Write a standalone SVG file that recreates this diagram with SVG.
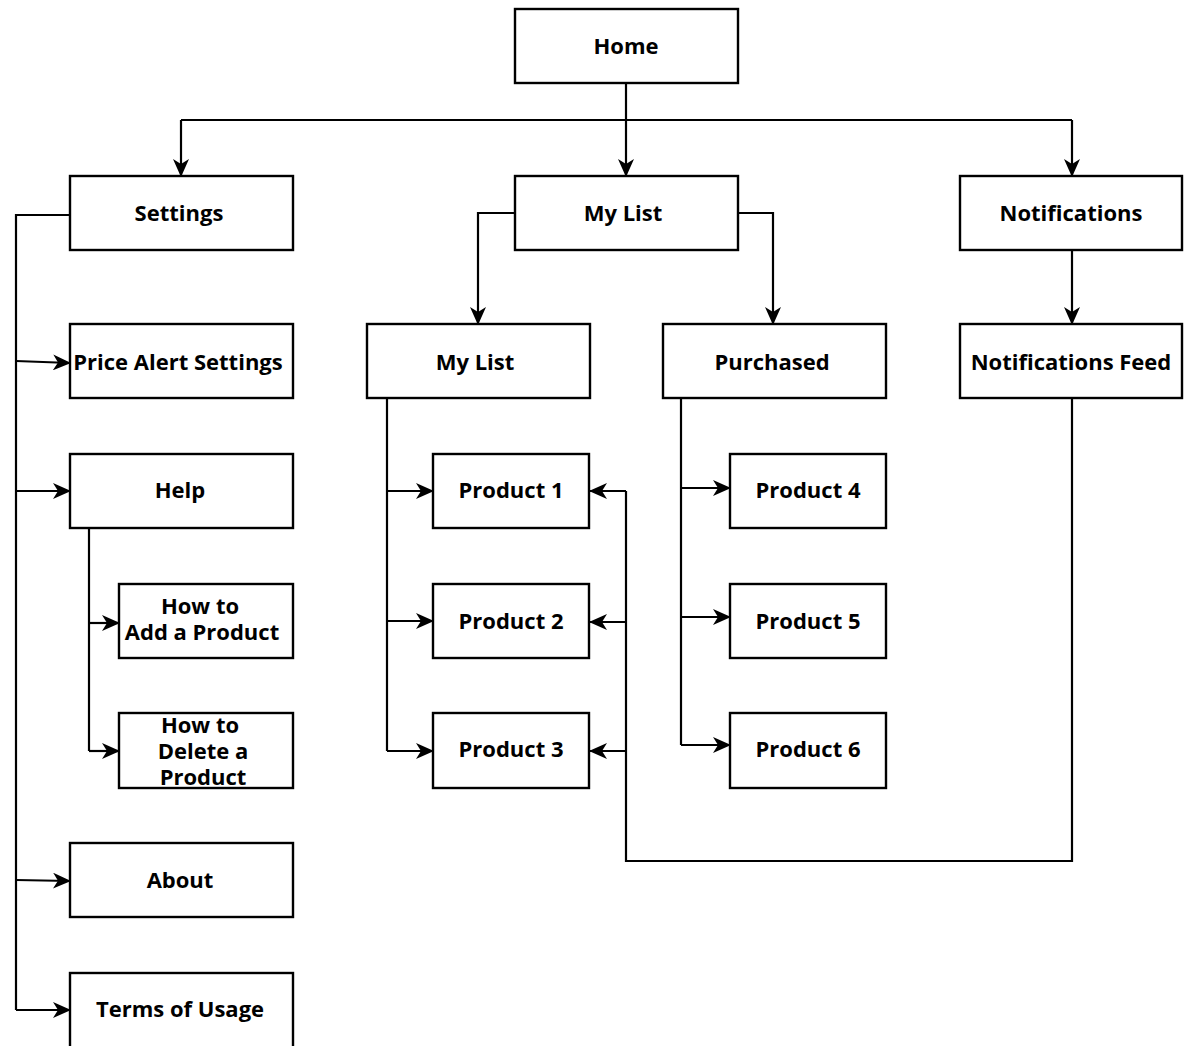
<svg xmlns="http://www.w3.org/2000/svg" width="1188" height="1046" viewBox="0 0 1188 1046">
  <style>
    .box { fill: #ffffff; stroke: #000000; stroke-width: 2.4; }
    .lbl { font-family: "Open Sans", "DejaVu Sans", sans-serif; font-weight: bold; font-size: 22px; fill: #000000; text-anchor: middle; }
    .wire { fill: none; stroke: #000000; stroke-width: 2.2; }
    .arr { marker-end: url(#head); }
  </style>
  <defs>
    <marker id="head" markerUnits="userSpaceOnUse" markerWidth="18" markerHeight="16" viewBox="0 0 18 16" refX="17" refY="8" orient="auto">
      <path d="M0,0 L18,8 L0,16 L5,8 Z" fill="#000000"/>
    </marker>
  </defs>
  <rect width="1188" height="1046" fill="#ffffff"/>

  <!-- connectors -->
  <g id="connectors">
    <path class="wire" d="M626,83 V120"/>
    <path class="wire" d="M181,120 H1072"/>
    <path class="wire arr" d="M181,120 V176"/>
    <path class="wire arr" d="M626,120 V176"/>
    <path class="wire arr" d="M1072,120 V176"/>

    <!-- settings branch -->
    <path class="wire" d="M70,215 H16 V1010"/>
    <path class="wire arr" d="M16,361 L70,363"/>
    <path class="wire arr" d="M16,491 H70"/>
    <path class="wire arr" d="M16,880 L70,881"/>
    <path class="wire arr" d="M16,1010 H70"/>

    <!-- help branch -->
    <path class="wire" d="M89,528 V751"/>
    <path class="wire arr" d="M89,623 H119"/>
    <path class="wire arr" d="M89,751 H119"/>

    <!-- my list split -->
    <path class="wire arr" d="M515,213 H478 V324"/>
    <path class="wire arr" d="M738,213 H773 V324"/>

    <!-- my list products -->
    <path class="wire" d="M387,398 V751"/>
    <path class="wire arr" d="M387,491 H433"/>
    <path class="wire arr" d="M387,621 H433"/>
    <path class="wire arr" d="M387,751 H433"/>

    <!-- purchased products -->
    <path class="wire" d="M681,396 V745"/>
    <path class="wire arr" d="M681,488 H730"/>
    <path class="wire arr" d="M681,617 H730"/>
    <path class="wire arr" d="M681,745 H730"/>

    <!-- notifications -->
    <path class="wire arr" d="M1072,250 V324"/>
    <path class="wire" d="M1072,398 V861 H626 V491"/>
    <path class="wire arr" d="M626,491 H590"/>
    <path class="wire arr" d="M626,622 H590"/>
    <path class="wire arr" d="M626,751 H590"/>
  </g>

  <!-- nodes -->
  <g id="home"><rect class="box" x="515" y="9" width="223" height="74"/><text class="lbl" x="626" y="54">Home</text></g>
  <g id="settings"><rect class="box" x="70" y="176" width="223" height="74"/><text class="lbl" x="179" y="221">Settings</text></g>
  <g id="mylist"><rect class="box" x="515" y="176" width="223" height="74"/><text class="lbl" x="623" y="221">My List</text></g>
  <g id="notifications"><rect class="box" x="960" y="176" width="222" height="74"/><text class="lbl" x="1071" y="221">Notifications</text></g>

  <g id="price-alert"><rect class="box" x="70" y="324" width="223" height="74"/><text class="lbl" x="178" y="370">Price Alert Settings</text></g>
  <g id="mylist-sub"><rect class="box" x="367" y="324" width="223" height="74"/><text class="lbl" x="475" y="370">My List</text></g>
  <g id="purchased"><rect class="box" x="663" y="324" width="223" height="74"/><text class="lbl" x="772" y="370">Purchased</text></g>
  <g id="notif-feed"><rect class="box" x="960" y="324" width="222" height="74"/><text class="lbl" x="1071" y="370">Notifications Feed</text></g>

  <g id="help"><rect class="box" x="70" y="454" width="223" height="74"/><text class="lbl" x="180" y="498">Help</text></g>
  <g id="product1"><rect class="box" x="433" y="454" width="156" height="74"/><text class="lbl" x="511" y="498">Product 1</text></g>
  <g id="product4"><rect class="box" x="730" y="454" width="156" height="74"/><text class="lbl" x="808" y="498">Product 4</text></g>

  <g id="how-add"><rect class="box" x="119" y="584" width="174" height="74"/><text class="lbl" x="200" y="614">How to</text><text class="lbl" x="202" y="640">Add a Product</text></g>
  <g id="product2"><rect class="box" x="433" y="584" width="156" height="74"/><text class="lbl" x="511" y="629">Product 2</text></g>
  <g id="product5"><rect class="box" x="730" y="584" width="156" height="74"/><text class="lbl" x="808" y="629">Product 5</text></g>

  <g id="how-delete"><rect class="box" x="119" y="713" width="174" height="75"/><text class="lbl" x="200" y="733">How to</text><text class="lbl" x="203" y="759">Delete a</text><text class="lbl" x="203" y="785">Product</text></g>
  <g id="product3"><rect class="box" x="433" y="713" width="156" height="75"/><text class="lbl" x="511" y="757">Product 3</text></g>
  <g id="product6"><rect class="box" x="730" y="713" width="156" height="75"/><text class="lbl" x="808" y="757">Product 6</text></g>

  <g id="about"><rect class="box" x="70" y="843" width="223" height="74"/><text class="lbl" x="180" y="888">About</text></g>
  <g id="terms"><rect class="box" x="70" y="973" width="223" height="80"/><text class="lbl" x="180" y="1017">Terms of Usage</text></g>
</svg>
